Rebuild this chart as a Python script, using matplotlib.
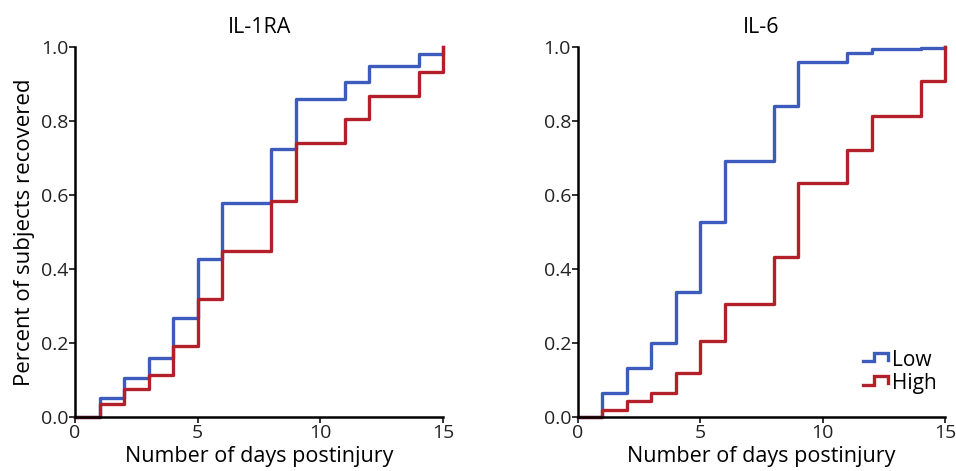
import matplotlib
matplotlib.use("Agg")
import matplotlib.pyplot as plt
from matplotlib.lines import Line2D
from matplotlib.legend_handler import HandlerBase

plt.rcParams['font.family'] = ['Open Sans', 'DejaVu Sans']

# event days and cumulative fraction recovered
days = [0, 1, 2, 3, 4, 5, 6, 8, 9, 11, 12, 14, 15]
il1ra_low = [0, 0.051, 0.105, 0.160, 0.268, 0.427, 0.578, 0.723, 0.859, 0.905, 0.948, 0.980, 1.0]
il1ra_high = [0, 0.036, 0.076, 0.114, 0.192, 0.318, 0.449, 0.584, 0.741, 0.804, 0.867, 0.933, 1.0]
il6_low = [0, 0.066, 0.133, 0.201, 0.337, 0.527, 0.692, 0.840, 0.959, 0.984, 0.995, 0.998, 1.0]
il6_high = [0, 0.020, 0.043, 0.066, 0.120, 0.205, 0.304, 0.432, 0.631, 0.722, 0.813, 0.908, 1.0]

titles = ['IL-1RA', 'IL-6']
xticks = [0, 5, 10, 15]
yticks = [0.0, 0.2, 0.4, 0.6, 0.8, 1.0]

blue = '#3c5bbd'
red = '#b3202a'


class StepHandler(HandlerBase):
    # little step icon for the legend
    def create_artists(self, legend, orig_handle, xdescent, ydescent,
                       width, height, fontsize, trans):
        x0, w, h = -xdescent, width, height
        xs = [x0, x0 + 0.45 * w, x0 + 0.45 * w, x0 + w, x0 + w]
        ys = [0.3 * h, 0.3 * h, 0.85 * h, 0.85 * h, 0.4 * h]
        ln = Line2D(xs, ys, color=orig_handle.get_color(),
                    lw=orig_handle.get_linewidth(), solid_joinstyle='miter')
        ln.set_transform(trans)
        return [ln]


fig = plt.figure(figsize=(9.56, 4.71), dpi=100)
ax1 = fig.add_axes([0.0785, 0.1146, 0.385, 0.786])
ax2 = fig.add_axes([0.6046, 0.1146, 0.384, 0.786])

for ax, title, low, high in [(ax1, titles[0], il1ra_low, il1ra_high),
                             (ax2, titles[1], il6_low, il6_high)]:
    ax.step(days, low, where='post', color=blue, lw=2.4, label='Low')
    ax.step(days, high, where='post', color=red, lw=2.4, label='High')
    ax.set_xlim(0, 15)
    ax.set_ylim(0, 1.0)
    ax.set_xticks(xticks)
    ax.set_yticks(yticks)
    ax.set_yticklabels([f'{v:.1f}' for v in yticks])
    for s in ['top', 'right']:
        ax.spines[s].set_visible(False)
    for s in ['left', 'bottom']:
        ax.spines[s].set_linewidth(1.8)
    ax.tick_params(direction='out', length=4, width=1.3, pad=1,
                   labelsize=14, colors='#222222')
    ax.set_title(title, fontsize=15.5, pad=10)
    ax.set_xlabel('Number of days postinjury', fontsize=15.5, labelpad=3)
    for ln in ax.lines:
        ln.set_clip_on(False)

ax1.set_ylabel('Percent of subjects recovered', fontsize=16, labelpad=4)

ax2.legend(loc='lower right', bbox_to_anchor=(1.0, 0.04), frameon=False,
           fontsize=15, handler_map={Line2D: StepHandler()},
           handlelength=1.2, handletextpad=0.2, borderaxespad=0,
           labelspacing=0.1)

fig.savefig('out.png', dpi=100)
